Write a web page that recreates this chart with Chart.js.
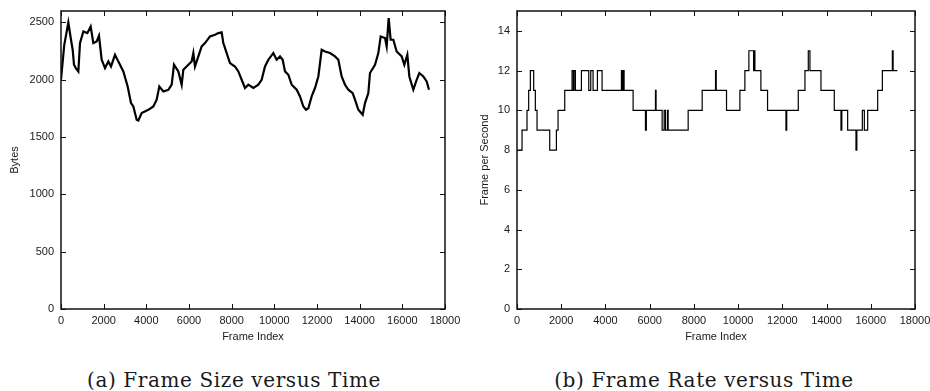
<!DOCTYPE html>
<html>
<head>
<meta charset="utf-8">
<script src="https://cdn.jsdelivr.net/npm/chart.js@4.4.0/dist/chart.umd.min.js"></script>
<style>
    body { margin: 0; background: #fff; width: 930px; height: 391px; overflow: hidden; position: relative; }
    .panel { position: absolute; top: 0; height: 350px; }
    .caption { position: absolute; top: 368px; font-family: "DejaVu Serif", serif; font-size: 20px; letter-spacing: 0.6px; color: #1a1a1a; text-align: center; white-space: nowrap; }
</style>
</head>
<body>
<div class="panel" style="left:0;width:460px;"><canvas id="sizeChart"></canvas></div>
<div class="panel" style="left:465px;width:465px;"><canvas id="rateChart"></canvas></div>
<div class="caption" style="left:74px;width:320px;">(a) Frame Size versus Time</div>
<div class="caption" style="left:543px;width:322px;">(b) Frame Rate versus Time</div>
<script>
// Frame size (left panel)
const sizeFrames = [0, 150, 344, 469, 547, 609, 700, 813, 890, 1047,
    1234, 1391, 1516, 1672, 1781, 1906, 2063, 2219, 2344, 2531,
    2688, 2922, 3125, 3281, 3391, 3547, 3625, 3781, 4094, 4328,
    4484, 4609, 4797, 5031, 5188, 5297, 5500, 5656, 5734, 5969,
    6125, 6203, 6281, 6438, 6594, 6750, 6984, 7219, 7375, 7531,
    7609, 7766, 7922, 8156, 8313, 8469, 8625, 8781, 9016, 9250,
    9406, 9563, 9719, 9953, 10109, 10266, 10391, 10500, 10656, 10813,
    11047, 11203, 11359, 11484, 11594, 11750, 11906, 12063, 12219, 12375,
    12609, 12844, 13000, 13156, 13313, 13469, 13672, 13781, 13938, 14141,
    14250, 14406, 14484, 14719, 14875, 14984, 15188, 15266, 15359, 15453,
    15578, 15734, 15969, 16094, 16234, 16328, 16516, 16672, 16797, 16984,
    17141, 17250];
const sizeBytes = [2000, 2300, 2500, 2349, 2262, 2131, 2100, 2073, 2320, 2421,
    2407, 2465, 2320, 2334, 2384, 2175, 2102, 2160, 2116, 2218,
    2160, 2073, 1942, 1797, 1767, 1651, 1645, 1710, 1738, 1767,
    1826, 1942, 1898, 1913, 1957, 2131, 2073, 1957, 2087, 2131,
    2160, 2233, 2116, 2204, 2291, 2320, 2378, 2393, 2407, 2413,
    2320, 2233, 2146, 2116, 2073, 2000, 1928, 1957, 1928, 1957,
    2000, 2116, 2175, 2233, 2175, 2204, 2175, 2073, 2044, 1957,
    1913, 1855, 1767, 1738, 1752, 1855, 1928, 2029, 2262, 2247,
    2233, 2204, 2175, 2029, 1957, 1913, 1884, 1826, 1738, 1695,
    1797, 1884, 2059, 2131, 2233, 2378, 2364, 2291, 2538, 2349,
    2349, 2247, 2204, 2131, 2218, 2029, 1913, 2000, 2059, 2029,
    1986, 1913];

// Frame rate (right panel), value holds from each frame until the next one
const rateFrames = [0, 228, 453, 528, 604, 755, 830, 906, 1480, 1782,
    1857, 2159, 2491, 2551, 2581, 2642, 2913, 3245, 3336, 3441,
    3637, 3848, 4723, 4760, 4800, 4844, 5251, 5810, 5850, 6262,
    6290, 6564, 6655, 6715, 6806, 6836, 7741, 8375, 8979, 9010,
    9476, 10080, 10306, 10487, 10700, 10730, 10759, 11030, 11332, 12163,
    12200, 12721, 13023, 13174, 13249, 13747, 14350, 14652, 14690, 14954,
    15331, 15370, 15618, 15709, 15860, 16312, 16524, 16976, 17010, 17203];
const rateValues = [8, 9, 10, 11, 12, 11, 10, 9, 8, 9,
    10, 11, 12, 11, 12, 11, 12, 11, 12, 11,
    12, 11, 12, 11, 12, 11, 10, 9, 10, 11,
    10, 9, 10, 9, 10, 9, 10, 11, 12, 11,
    10, 11, 12, 13, 12, 13, 12, 11, 10, 9,
    10, 11, 12, 13, 12, 11, 10, 9, 10, 9,
    8, 9, 10, 9, 10, 11, 12, 13, 12, 12];

const xTicks = [0, 2000, 4000, 6000, 8000, 10000, 12000, 14000, 16000, 18000];
const sizeTicks = [0, 500, 1000, 1500, 2000, 2500];
const rateTicks = [0, 2, 4, 6, 8, 10, 12, 14];

const textColor = '#1a1a1a';
const tickFont = { family: '"Liberation Sans", Arial, sans-serif', size: 11 };

// gnuplot style frame with inward ticks on all four sides
const framePlugin = {
    id: 'frame',
    afterDatasetsDraw(chart) {
        const { ctx, chartArea: a, scales } = chart;
        const len = 5;
        ctx.save();
        ctx.strokeStyle = '#111';
        ctx.lineWidth = 1;
        scales.x.ticks.forEach(t => {
            const px = Math.round(scales.x.getPixelForValue(t.value)) + 0.5;
            ctx.beginPath();
            ctx.moveTo(px, a.bottom); ctx.lineTo(px, a.bottom - len);
            ctx.moveTo(px, a.top); ctx.lineTo(px, a.top + len);
            ctx.stroke();
        });
        scales.y.ticks.forEach(t => {
            const py = Math.round(scales.y.getPixelForValue(t.value)) + 0.5;
            ctx.beginPath();
            ctx.moveTo(a.left, py); ctx.lineTo(a.left + len, py);
            ctx.moveTo(a.right, py); ctx.lineTo(a.right - len, py);
            ctx.stroke();
        });
        ctx.lineWidth = 1.5;
        ctx.strokeRect(a.left, a.top, a.right - a.left, a.bottom - a.top);
        ctx.restore();
    }
};

function makeOptions(yMax, yTicks, yTitle, yWidth, yTitlePad) {
    return {
        responsive: true,
        maintainAspectRatio: false,
        animation: false,
        layout: { padding: { top: 11, right: 15, left: 0, bottom: 0 } },
        plugins: { legend: { display: false }, tooltip: { enabled: false } },
        scales: {
            x: {
                type: 'linear',
                min: 0,
                max: 18000,
                afterBuildTicks: s => { s.ticks = xTicks.map(v => ({ value: v })); },
                afterFit: s => { s.height = 41; s.paddingLeft = 0; s.paddingRight = 0; },
                grid: { display: false, drawTicks: false },
                border: { display: false },
                ticks: { color: textColor, font: tickFont, padding: 5, maxRotation: 0, autoSkip: false, callback: v => String(v) },
                title: { display: true, text: 'Frame Index', color: textColor, font: tickFont, padding: { top: 0, bottom: 6 } }
            },
            y: {
                type: 'linear',
                min: 0,
                max: yMax,
                afterBuildTicks: s => { s.ticks = yTicks.map(v => ({ value: v })); },
                afterFit: s => { s.width = yWidth; s.paddingTop = 0; s.paddingBottom = 0; },
                grid: { display: false, drawTicks: false },
                border: { display: false },
                ticks: { color: textColor, font: tickFont, padding: 7, autoSkip: false, callback: v => String(v) },
                title: { display: true, text: yTitle, color: textColor, font: tickFont, padding: { top: yTitlePad, bottom: 0 } }
            }
        }
    };
}

new Chart(document.getElementById('sizeChart'), {
    type: 'line',
    data: {
        datasets: [{
            data: sizeFrames.map((f, i) => ({ x: f, y: sizeBytes[i] })),
            borderColor: '#000',
            borderWidth: 2.2,
            pointRadius: 0,
            tension: 0
        }]
    },
    options: makeOptions(2600, sizeTicks, 'Bytes', 61, 8),
    plugins: [framePlugin]
});

new Chart(document.getElementById('rateChart'), {
    type: 'line',
    data: {
        datasets: [{
            data: rateFrames.map((f, i) => ({ x: f, y: rateValues[i] })),
            borderColor: '#000',
            borderWidth: 1.2,
            pointRadius: 0,
            stepped: true
        }]
    },
    options: makeOptions(15, rateTicks, 'Frame per Second', 52, 13),
    plugins: [framePlugin]
});
</script>
</body>
</html>
